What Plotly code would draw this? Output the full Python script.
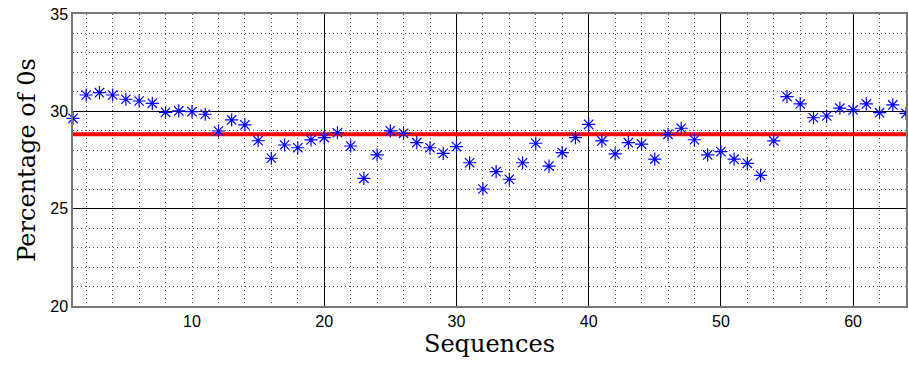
import plotly.graph_objects as go

sequences = list(range(1, 65))
pct_zeros = [29.64, 30.84, 30.96, 30.84, 30.62, 30.53, 30.41, 29.95, 30.02, 29.98,
             29.85, 28.99, 29.56, 29.30, 28.49, 27.59, 28.27, 28.13, 28.53, 28.65,
             28.90, 28.22, 26.56, 27.76, 29.00, 28.87, 28.39, 28.13, 27.84, 28.19,
             27.36, 26.01, 26.90, 26.51, 27.36, 28.36, 27.19, 27.88, 28.65, 29.33,
             28.48, 27.81, 28.39, 28.32, 27.55, 28.82, 29.13, 28.54, 27.76, 27.93,
             27.54, 27.33, 26.71, 28.48, 30.76, 30.38, 29.67, 29.76, 30.16, 30.07,
             30.38, 29.93, 30.33, 29.90]
mean_value = 28.82
x_tick_labels = [10, 20, 30, 40, 50, 60]
x_minor_grid = list(range(2, 65, 2))
x_major_grid = [20, 30, 40, 50, 60]
y_tick_labels = [20, 25, 30, 35]
y_minor_grid = list(range(20, 36))
y_major_grid = [25, 30]

fig = go.Figure()
# invisible trace to anchor the overlay axes carrying the major grid
fig.add_trace(go.Scatter(x=[sequences[0]], y=[mean_value], xaxis="x2", yaxis="y2",
                         mode="markers", marker=dict(opacity=0), showlegend=False,
                         hoverinfo="skip"))
fig.add_trace(go.Scatter(
    x=[sequences[0], sequences[-1]], y=[mean_value, mean_value], mode="lines",
    line=dict(color="#ff0000", width=4), showlegend=False))
fig.add_trace(go.Scatter(
    x=sequences, y=pct_zeros, mode="markers",
    marker=dict(symbol="asterisk-open", size=11, color="#0000ff",
                line=dict(color="#0000ff", width=1.2)),
    showlegend=False, cliponaxis=False))

tickfont = dict(family="Liberation Sans, Arial", size=16, color="#000")
titlefont = dict(family="DejaVu Serif", size=24, color="#000")
dotted = dict(showgrid=True, gridcolor="#555555", griddash="1px,3px", gridwidth=1)

fig.update_layout(
    width=908, height=365,
    margin=dict(l=73, r=0, t=14, b=59),
    plot_bgcolor="white", paper_bgcolor="white",
    xaxis=dict(range=[1, 64], tickvals=x_minor_grid,
               ticktext=[str(v) if v in x_tick_labels else "" for v in x_minor_grid],
               zeroline=False, ticks="",
               showline=True, linecolor="#777777", linewidth=1.5, mirror=True,
               tickfont=tickfont, **dotted,
               title=dict(text="Sequences", standoff=2, font=titlefont)),
    yaxis=dict(range=[20, 35], tickvals=y_minor_grid,
               ticktext=[str(v) if v in y_tick_labels else "" for v in y_minor_grid],
               zeroline=False, ticks="",
               showline=True, linecolor="#777777", linewidth=1.5, mirror=True,
               tickfont=tickfont, **dotted,
               title=dict(text="Percentage of 0s", standoff=8, font=titlefont)),
    xaxis2=dict(range=[1, 64], tickvals=x_major_grid, overlaying="x", side="top",
                showticklabels=False, showgrid=True, gridcolor="#000000", gridwidth=1,
                zeroline=False, ticks="", layer="below traces"),
    yaxis2=dict(range=[20, 35], tickvals=y_major_grid, overlaying="y", side="right",
                showticklabels=False, showgrid=True, gridcolor="#000000", gridwidth=1,
                zeroline=False, ticks="", layer="below traces"),
)
fig.write_html("out.html")
